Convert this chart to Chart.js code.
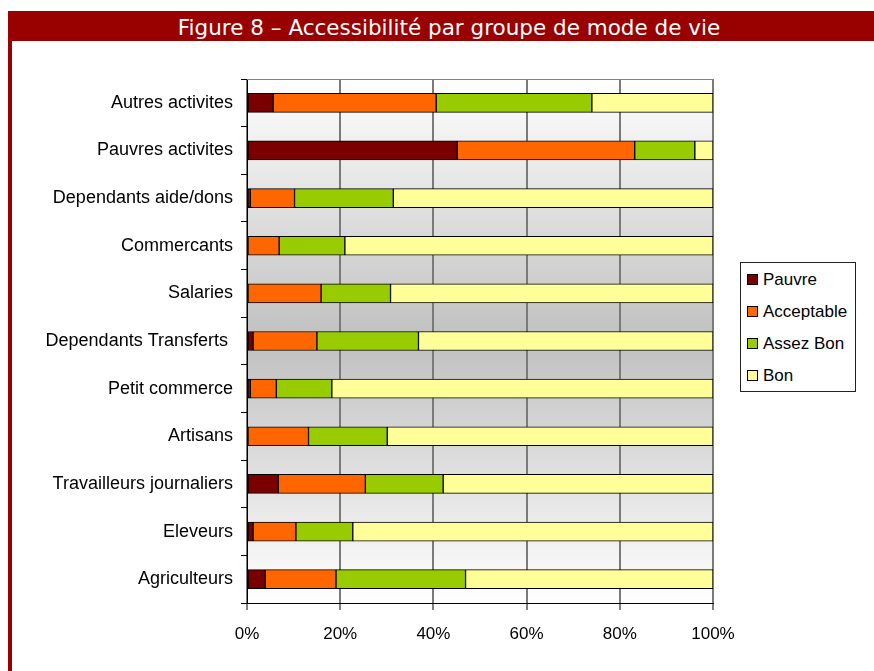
<!DOCTYPE html>
<html>
<head>
<meta charset="utf-8">
<script src="https://cdn.jsdelivr.net/npm/chart.js@4"></script>
<style>
  html, body { margin: 0; padding: 0; background: #fff; }
  body { width: 874px; height: 671px; position: relative; overflow: hidden; }
  #titlebar {
    position: absolute; left: 8px; top: 11px; width: 866px; height: 30px; overflow: hidden;
    background: #990000; color: #fff;
    font-family: "DejaVu Sans", Verdana, sans-serif; font-size: 21.5px;
    line-height: 34px; text-align: center; padding-left: 16px; box-sizing: border-box;
  }
  #leftbar { position: absolute; left: 8px; top: 11px; width: 4px; height: 660px; background: #990000; }
  #wrap { position: absolute; left: 12px; top: 41px; width: 862px; height: 630px; }
  #legend {
    position: absolute; left: 740px; top: 262px; width: 116px; height: 130px;
    border: 1px solid #222; box-sizing: border-box; background: #fff;
    font-family: "Liberation Sans", Arial, sans-serif; font-size: 17px; color: #000;
    padding-top: 1px;
  }
  .item { height: 32px; line-height: 32px; white-space: nowrap; padding-left: 6px; }
  .sw { display: inline-block; width: 9px; height: 9px; border: 1px solid #000; margin-right: 5px; vertical-align: 0px; }
</style>
</head>
<body>
<div id="titlebar">Figure 8 – Accessibilité par groupe de mode de vie</div>
<div id="leftbar"></div>
<div id="wrap"><canvas id="chart"></canvas></div>
<div id="legend"></div>
<script>
// categories, top to bottom as in the figure
const groups = [
  "Autres activites",
  "Pauvres activites",
  "Dependants aide/dons",
  "Commercants",
  "Salaries",
  "Dependants Transferts ",
  "Petit commerce",
  "Artisans",
  "Travailleurs journaliers",
  "Eleveurs",
  "Agriculteurs",
];

// shares in %
const pauvre      = [5.6, 45.1, 0.7, 0, 0, 1.3, 0.7, 0, 6.7, 1.3, 3.9];
const acceptable  = [35.0, 38.1, 9.5, 6.9, 15.9, 13.7, 5.6, 13.2, 18.7, 9.2, 15.2];
const assezBon    = [33.4, 12.9, 21.2, 14.1, 14.9, 21.8, 11.9, 16.9, 16.7, 12.2, 27.8];
const bon         = [26.0, 3.9, 68.6, 79.0, 69.2, 63.2, 81.8, 69.9, 57.9, 77.3, 53.1];

const seriesNames = ["Pauvre", "Acceptable", "Assez Bon", "Bon"];
const seriesColors = ["#7a0000", "#ff6600", "#99cc00", "#ffff99"];
const xTicks = [0, 20, 40, 60, 80, 100];

const fontStack = "'Liberation Sans', Arial, sans-serif";

// plot background: white at the edges, grey in the middle
const bgPlugin = {
  id: "plotBg",
  beforeDraw(chart) {
    const { ctx, chartArea: a } = chart;
    const g = ctx.createLinearGradient(0, a.top, 0, a.bottom);
    g.addColorStop(0, "#ffffff");
    g.addColorStop(0.5, "#c0c0c0");
    g.addColorStop(1, "#ffffff");
    ctx.save();
    ctx.fillStyle = g;
    ctx.fillRect(a.left, a.top, a.right - a.left, a.bottom - a.top);
    ctx.restore();
  },
  afterDraw(chart) {
    const { ctx, chartArea: a } = chart;
    ctx.save();
    ctx.strokeStyle = "#808080";
    ctx.lineWidth = 1;
    ctx.beginPath();
    ctx.moveTo(a.left, a.top + 0.5);
    ctx.lineTo(a.right, a.top + 0.5);
    ctx.stroke();
    ctx.restore();
  },
};

const values = [pauvre, acceptable, assezBon, bon];

new Chart(document.getElementById("chart"), {
  type: "bar",
  data: {
    labels: groups,
    datasets: values.map((v, i) => ({
      label: seriesNames[i],
      data: v,
      backgroundColor: seriesColors[i],
      borderColor: "#000",
      borderWidth: 1,
      borderSkipped: false,
      barThickness: 19,
    })),
  },
  options: {
    indexAxis: "y",
    responsive: true,
    maintainAspectRatio: false,
    animation: false,
    layout: { padding: { left: 0, top: 38, right: 161, bottom: 0 } },
    plugins: {
      legend: { display: false },
      tooltip: { enabled: false },
    },
    scales: {
      x: {
        stacked: true,
        min: 0,
        max: 100,
        afterBuildTicks: (s) => { s.ticks = xTicks.map((v) => ({ value: v })); },
        afterFit: (s) => { s.height = 68; },
        ticks: {
          callback: (v) => v + "%",
          color: "#000",
          padding: 14,
          maxRotation: 0,
          font: { family: fontStack, size: 17 },
        },
        grid: { color: "#7a7a7a", lineWidth: 2, tickColor: "#000", tickWidth: 1, tickLength: 7 },
        border: { color: "#000", width: 1 },
      },
      y: {
        stacked: true,
        afterFit: (s) => { s.width = 235; },
        ticks: {
          color: "#000",
          padding: 8,
          autoSkip: false,
          font: { family: fontStack, size: 18 },
        },
        grid: { drawOnChartArea: false, offset: true, tickColor: "#000", tickLength: 6 },
        border: { color: "#000", width: 1 },
      },
    },
  },
  plugins: [bgPlugin],
});

// legend box
const legend = document.getElementById("legend");
seriesNames.forEach((name, i) => {
  const row = document.createElement("div");
  row.className = "item";
  const sw = document.createElement("span");
  sw.className = "sw";
  sw.style.background = seriesColors[i];
  row.appendChild(sw);
  row.appendChild(document.createTextNode(name));
  legend.appendChild(row);
});
</script>
</body>
</html>
